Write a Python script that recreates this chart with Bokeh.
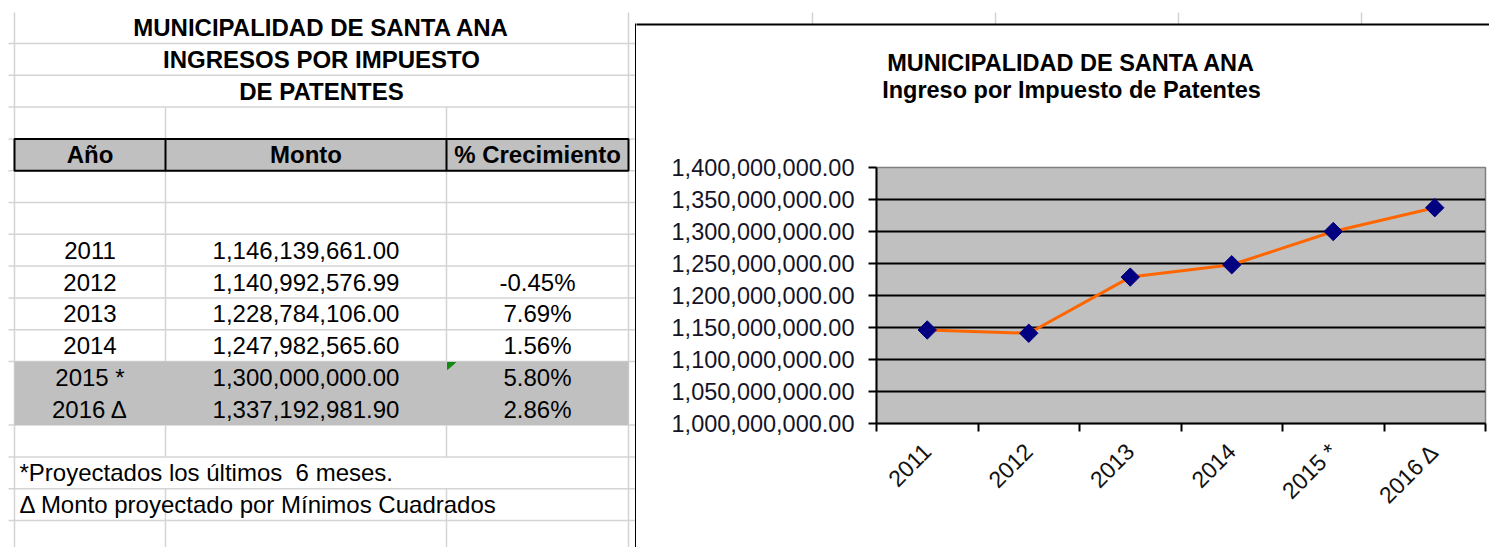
import math
from bokeh.plotting import figure
from bokeh.models import Range1d, FixedTicker, NumeralTickFormatter, ColumnDataSource
from bokeh.embed import file_html
from bokeh.resources import INLINE
from bokeh.core.properties import value

# ---------------- data ----------------
years = ["2011", "2012", "2013", "2014", "2015 *", "2016 Δ"]
montos = [1146139661.00, 1140992576.99, 1228784106.00, 1247982565.60,
          1300000000.00, 1337192981.90]
crecimiento = [None, -0.45, 7.69, 1.56, 5.80, 2.86]
y_ticks = [1000000000, 1050000000, 1100000000, 1150000000, 1200000000,
           1250000000, 1300000000, 1350000000, 1400000000]
table_title = ["MUNICIPALIDAD DE SANTA ANA", "INGRESOS POR IMPUESTO", "DE PATENTES"]
headers = ["Año", "Monto", "% Crecimiento"]
notes = ["*Proyectados los últimos \u00a06 meses.", "Δ Monto proyectado por Mínimos Cuadrados"]
chart_title = ["MUNICIPALIDAD DE SANTA ANA", "Ingreso por Impuesto de Patentes"]

FONT = "Liberation Sans"
GRID = "#d4d4d4"
GRAY = "#c0c0c0"
TFS = "24px"     # table font size
CFS = "23.5px"   # chart font size


def bare(fig):
    fig.min_border_left = fig.min_border_right = 0
    fig.min_border_top = fig.min_border_bottom = 0
    fig.outline_line_color = None
    fig.background_fill_color = "white"
    fig.border_fill_color = "white"
    return fig


# ---------------- table (spreadsheet) ----------------
t = bare(figure(width=636, height=547, x_range=Range1d(0, 636), y_range=Range1d(547, 0),
                output_backend="svg", toolbar_location=None,
                x_axis_type=None, y_axis_type=None,
                styles={"position": "absolute", "left": "0px", "top": "0px"}))

R0, RH = 11.2, 31.8
def rb(k):
    return R0 + k * RH
def rc(k):
    return R0 + (k + 0.5) * RH

COLX = [14, 165, 446, 628]
CENT = [(COLX[0] + COLX[1]) / 2, (COLX[1] + COLX[2]) / 2, (COLX[2] + COLX[3]) / 2]

hk = [1, 2, 3, 4, 5, 6, 7, 8, 9, 10, 11, 13, 14, 15, 16]
t.segment(x0=[8] * len(hk), x1=[636] * len(hk), y0=[rb(k) for k in hk],
          y1=[rb(k) for k in hk], line_color=GRID, line_width=1.5)
t.segment(x0=[14, 628], x1=[14, 628], y0=[12, 12], y1=[547, 547],
          line_color=GRID, line_width=1.5)
t.segment(x0=[165, 446, 165, 446], x1=[165, 446, 165, 446],
          y0=[rb(3), rb(3), rb(15), rb(15)], y1=[rb(14), rb(14), 547, 547],
          line_color=GRID, line_width=1.5)

t.quad(left=14, right=628, top=rb(11), bottom=rb(13), fill_color=GRAY, line_color=None)
t.quad(left=14, right=628, top=rb(4), bottom=rb(5), fill_color=GRAY,
       line_color="black", line_width=2)
t.segment(x0=[165, 446], x1=[165, 446], y0=[rb(4)] * 2, y1=[rb(5)] * 2,
          line_color="black", line_width=2)
t.patch(x=[447, 455, 447], y=[rb(11) + 1, rb(11) + 1, rb(11) + 8], color="#108a10")
t.segment(x0=[635.5], x1=[635.5], y0=[23], y1=[547], line_color="black", line_width=2)

t.text(x=[321] * 3, y=[rc(0), rc(1), rc(2)], text=table_title,
       text_font=value(FONT), text_font_size=TFS, text_font_style="bold",
       text_align="center", text_baseline="middle", text_color="black")
t.text(x=CENT, y=[rc(4)] * 3, text=headers,
       text_font=value(FONT), text_font_size=TFS, text_font_style="bold",
       text_align="center", text_baseline="middle", text_color="black")

rows_y = [rc(7 + i) for i in range(len(years))]
src = ColumnDataSource(dict(
    y=rows_y,
    year=years,
    monto=[f"{v:,.2f}" for v in montos],
    pct=["" if g is None else f"{g:.2f}%" for g in crecimiento],
))
for col, field in zip(CENT, ["year", "monto", "pct"]):
    t.text(x=col, y="y", text=field, source=src,
           text_font=value(FONT), text_font_size=TFS,
           text_align="center", text_baseline="middle", text_color="black")

t.text(x=[19, 19], y=[rc(14), rc(15)], text=notes,
       text_font=value(FONT), text_font_size=TFS,
       text_align="left", text_baseline="middle", text_color="black")

# ---------------- chart header (frame top + titles) ----------------
HDR_H = 140
h = bare(figure(width=853, height=HDR_H, x_range=Range1d(636, 1489), y_range=Range1d(HDR_H, 0),
                output_backend="svg", toolbar_location=None,
                x_axis_type=None, y_axis_type=None,
                styles={"position": "absolute", "left": "636px", "top": "0px"}))
h.segment(x0=[812, 995, 1178, 1361], x1=[812, 995, 1178, 1361], y0=[12] * 4, y1=[24] * 4,
          line_color=GRID, line_width=1.5)
h.segment(x0=[634], x1=[1489], y0=[24], y1=[24], line_color="black", line_width=2)
h.text(x=[1071, 1071], y=[62, 89], text=chart_title,
       text_font=value(FONT), text_font_size=CFS, text_font_style="bold",
       text_align="center", text_baseline="middle", text_color="black")

# ---------------- chart ----------------
PT, PB = 167, 423
c = figure(width=853, height=547 - HDR_H,
           x_range=Range1d(0, len(years)), y_range=Range1d(y_ticks[0], y_ticks[-1]),
           output_backend="svg", toolbar_location=None,
           min_border_left=240, min_border_right=4,
           min_border_top=PT - HDR_H, min_border_bottom=547 - PB,
           styles={"position": "absolute", "left": "636px", "top": f"{HDR_H}px"})
c.background_fill_color = GRAY
c.border_fill_color = "white"
c.outline_line_color = "#808080"
c.outline_line_width = 1.5

xs = [i + 0.5 for i in range(len(years))]
c.xaxis.ticker = FixedTicker(ticks=xs, minor_ticks=list(range(len(years) + 1)))
c.xaxis.major_label_overrides = {x: lab for x, lab in zip(xs, years)}
c.xaxis.major_label_orientation = math.pi / 4
c.xaxis.major_tick_line_color = None
c.xaxis.minor_tick_line_color = "black"
c.xaxis.minor_tick_line_width = 2
c.xaxis.minor_tick_out = 8
c.xaxis.minor_tick_in = 0
c.xaxis.axis_line_color = "black"
c.xaxis.axis_line_width = 2
c.xaxis.major_label_text_font = FONT
c.xaxis.major_label_text_font_size = "23px"
c.xaxis.major_label_text_color = "#111111"
c.xaxis.major_label_standoff = 16

c.yaxis.ticker = FixedTicker(ticks=y_ticks)
c.yaxis.formatter = NumeralTickFormatter(format="0,0.00")
c.yaxis.major_tick_out = 8
c.yaxis.major_tick_in = 0
c.yaxis.major_tick_line_width = 2
c.yaxis.minor_tick_line_color = None
c.yaxis.axis_line_color = "black"
c.yaxis.axis_line_width = 2
c.yaxis.major_label_text_font = FONT
c.yaxis.major_label_text_font_size = CFS
c.yaxis.major_label_text_color = "#141428"
c.yaxis.major_label_standoff = 14

c.xgrid.visible = False
c.ygrid.ticker = FixedTicker(ticks=y_ticks[1:-1])
c.ygrid.grid_line_color = "black"
c.ygrid.grid_line_width = 2

c.line(xs, montos, line_color="#ff6600", line_width=3)
c.scatter(xs, montos, marker="square", angle=math.pi / 4, size=13,
          fill_color="#000080", line_color="#000080")

open("out.html", "w").write(file_html([t, h, c], INLINE))
